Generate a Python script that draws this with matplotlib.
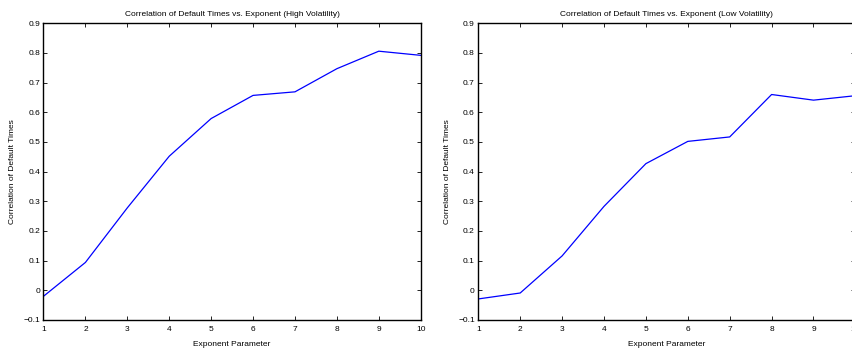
import matplotlib
matplotlib.use("Agg")
import matplotlib.pyplot as plt

# Exponent parameter vs. correlation of default times
exponents = [1, 2, 3, 4, 5, 6, 7, 8, 9, 10]
corr_high_vol = [-0.02, 0.094, 0.278, 0.452, 0.579, 0.657, 0.669, 0.747, 0.806, 0.792]
corr_low_vol = [-0.029, -0.009, 0.116, 0.283, 0.427, 0.502, 0.517, 0.660, 0.641, 0.656]

titles = [
    "Correlation of Default Times vs. Exponent (High Volatility)",
    "Correlation of Default Times vs. Exponent (Low Volatility)",
]
x_label = "Exponent Parameter"
y_label = "Correlation of Default Times"
y_ticks = [-0.1, 0, 0.1, 0.2, 0.3, 0.4, 0.5, 0.6, 0.7, 0.8, 0.9]
y_ticklabels = ["\u22120.1", "0", "0.1", "0.2", "0.3", "0.4", "0.5", "0.6", "0.7", "0.8", "0.9"]

plt.rcParams["font.family"] = ["Liberation Sans", "DejaVu Sans"]

W, H = 853, 351
fig = plt.figure(figsize=(W / 100, H / 100), dpi=100)

# axes boxes in pixels (left, right, top, bottom); the right panel runs off the edge
boxes = [(43.5, 420.7, 23.3, 320.0), (478.3, 855.4, 23.3, 320.0)]

for (x0, x1, y0, y1), title, series in zip(boxes, titles, [corr_high_vol, corr_low_vol]):
    ax = fig.add_axes([x0 / W, 1 - y1 / H, (x1 - x0) / W, (y1 - y0) / H])
    ax.plot(exponents, series, color="#0000ff", linewidth=0.9)
    ax.set_xlim(1, 10)
    ax.set_ylim(-0.1, 0.9)
    ax.set_xticks(exponents)
    ax.set_yticks(y_ticks)
    ax.set_yticklabels(y_ticklabels)
    ax.tick_params(direction="in", length=3, width=0.6, labelsize=6,
                   top=True, right=True, pad=2.5, colors="black")
    ax.tick_params(axis="x", pad=4)
    for sp in ax.spines.values():
        sp.set_linewidth(1.0)
    ax.set_title(title, fontsize=6, pad=5)
    ax.set_xlabel(x_label, fontsize=6, labelpad=6)
    ax.set_ylabel(y_label, fontsize=6, labelpad=5)

fig.savefig("out.png", dpi=100)
